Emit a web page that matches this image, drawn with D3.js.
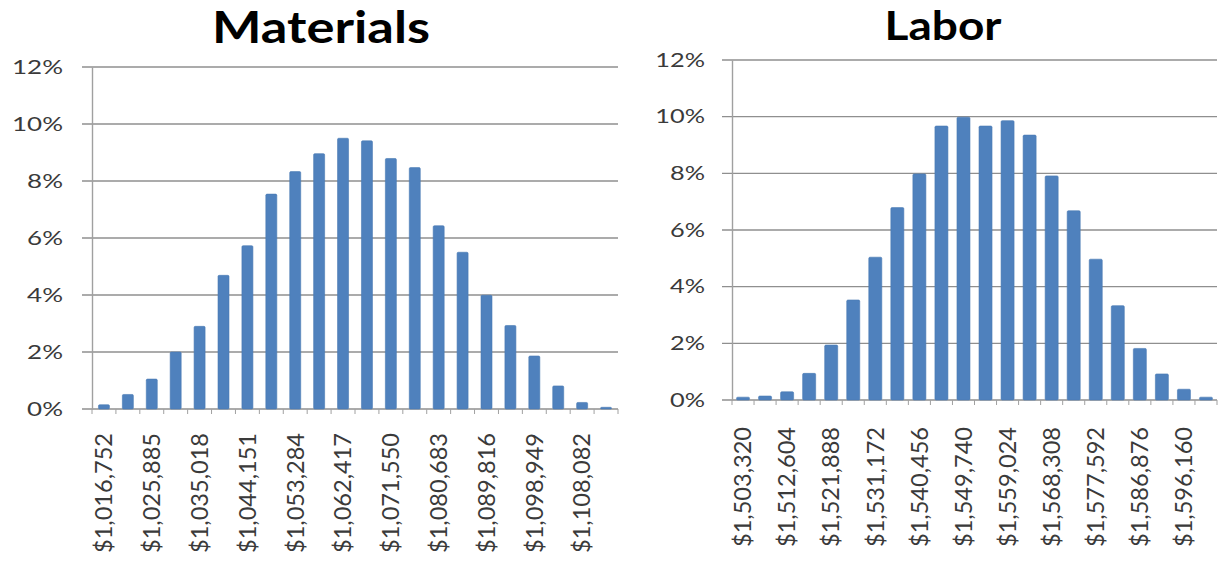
<!DOCTYPE html>
<html>
<head>
<meta charset="utf-8">
<script src="https://cdn.jsdelivr.net/npm/d3@7"></script>
<style>
  html, body { margin: 0; padding: 0; background: #fff; }
  svg { display: block; }
</style>
</head>
<body>
<svg id="chart" width="1220" height="562"></svg>
<script>
// Simulation histogram bins (lower bound of each cost bin) and share of trials (%)
const materialsBins = [
  1016752, 1021319, 1025885, 1030452, 1035018, 1039585, 1044151, 1048718,
  1053284, 1057851, 1062417, 1066984, 1071550, 1076117, 1080683, 1085250,
  1089816, 1094383, 1098949, 1103516, 1108082, 1112649
];
const materialsPct = [
  0.15, 0.51, 1.05, 2.00, 2.90, 4.69, 5.73, 7.54, 8.33, 8.96, 9.50,
  9.41, 8.79, 8.47, 6.43, 5.50, 3.99, 2.93, 1.86, 0.81, 0.23, 0.06
];

const laborBins = [
  1503320, 1507962, 1512604, 1517246, 1521888, 1526530, 1531172, 1535814,
  1540456, 1545098, 1549740, 1554382, 1559024, 1563666, 1568308, 1572950,
  1577592, 1582234, 1586876, 1591518, 1596160, 1600802
];
const laborPct = [
  0.10, 0.14, 0.29, 0.94, 1.94, 3.53, 5.04, 6.79, 7.98, 9.67, 9.98,
  9.67, 9.86, 9.35, 7.91, 6.68, 4.97, 3.33, 1.82, 0.92, 0.38, 0.10
];

const yTicks = [0, 2, 4, 6, 8, 10, 12];

// Layout of the two panels
const panels = [
  { title: "Materials", bins: materialsBins, pct: materialsPct,
    left: 92, right: 618, top: 67, bottom: 409, pad: 0.54,
    titleX: 321, titleY: 43, titleSize: 43, titleLen: 218,
    labelGap: 24, tickGap: 29, tickFont: 20 },
  { title: "Labor", bins: laborBins, pct: laborPct,
    left: 732, right: 1217, top: 60, bottom: 400, pad: 0.41,
    titleX: 943, titleY: 39.5, titleSize: 40, titleLen: 117,
    labelGap: 27, tickGap: 27, tickFont: 19.5 }
];

const svg = d3.select("#chart");
const fontFamily = "Lato, 'Open Sans', 'DejaVu Sans', sans-serif";
const textColor = "#3a3a3a";
const barColor = "#4f81bd";
const kx = 1.3; // horizontal stretch of the axis text

const defs = svg.append("defs");
const shadow = defs.append("filter").attr("id", "edgeShadow")
  .attr("x", "-20%").attr("y", "-20%").attr("width", "140%").attr("height", "140%");
shadow.append("feDropShadow")
  .attr("dx", 2).attr("dy", 2.5).attr("stdDeviation", 1.8)
  .attr("flood-color", "#000").attr("flood-opacity", 0.35);

const moneyFmt = d3.format("$,");

panels.forEach(p => {
  const w = p.right - p.left;
  const h = p.bottom - p.top;
  const g = svg.append("g").attr("transform", `translate(${p.left},${p.top})`);

  const x = d3.scaleBand()
    .domain(p.bins)
    .range([0, w])
    .paddingInner(p.pad)
    .paddingOuter(p.pad / 2);

  const y = d3.scaleLinear().domain([0, 12]).range([h, 0]);

  // Title
  svg.append("text")
    .attr("x", p.titleX).attr("y", p.titleY)
    .attr("text-anchor", "middle")
    .attr("font-family", fontFamily)
    .attr("font-weight", 700)
    .attr("font-size", p.titleSize)
    .attr("textLength", p.titleLen)
    .attr("lengthAdjust", "spacingAndGlyphs")
    .attr("fill", "#000")
    .text(p.title);

  // Horizontal gridlines (extending left of the axis as tick marks)
  g.append("g").selectAll("line")
    .data(yTicks)
    .join("line")
    .attr("x1", -10).attr("x2", w)
    .attr("y1", d => y(d)).attr("y2", d => y(d))
    .attr("stroke", "#8f8f8f")
    .attr("stroke-width", 1.4);

  // Right border of the plot area, with shadow
  g.append("line")
    .attr("x1", w).attr("x2", w)
    .attr("y1", 2).attr("y2", h)
    .attr("stroke", "#8f8f8f").attr("stroke-width", 1.4)
    .attr("filter", "url(#edgeShadow)");

  // Y axis with percentage labels
  const yAxis = g.append("g")
    .call(d3.axisLeft(y).tickValues(yTicks).tickSize(0).tickPadding(p.tickGap)
      .tickFormat(d => d + "%"));
  yAxis.select(".domain").attr("stroke", "#a0a0a0").attr("stroke-width", 1.4);
  yAxis.selectAll("text")
    .attr("font-family", fontFamily)
    .attr("font-size", p.tickFont)
    .attr("fill", textColor)
    .attr("x", -p.tickGap / kx)
    .attr("transform", `scale(${kx},1)`);

  // Bars
  g.append("g").selectAll("rect")
    .data(p.bins.map((b, i) => ({ bin: b, v: p.pct[i] })))
    .join("rect")
    .attr("x", d => x(d.bin))
    .attr("width", x.bandwidth())
    .attr("y", d => y(d.v))
    .attr("height", d => y(0) - y(d.v))
    .attr("rx", 1.2)
    .attr("fill", barColor)
    .attr("stroke", "#4a7ab4")
    .attr("stroke-width", 0.6);

  // X axis: line with shadow, boundary ticks, rotated labels on every other bin
  const step = x.step();
  const axisG = g.append("g").attr("transform", `translate(0,${h})`);
  axisG.append("line")
    .attr("x1", -10).attr("x2", w)
    .attr("stroke", "#8f8f8f").attr("stroke-width", 1.4)
    .attr("filter", "url(#edgeShadow)");
  axisG.append("g").selectAll("line")
    .data(d3.range(p.bins.length + 1))
    .join("line")
    .attr("x1", i => i * step).attr("x2", i => i * step)
    .attr("y1", 0).attr("y2", 5)
    .attr("stroke", "#a0a0a0").attr("stroke-width", 1);

  const xAxis = axisG.append("g")
    .call(d3.axisBottom(x)
      .tickValues(p.bins.filter((_, i) => i % 2 === 0))
      .tickSize(0)
      .tickFormat(moneyFmt));
  xAxis.select(".domain").remove();
  xAxis.selectAll("text")
    .attr("font-family", fontFamily)
    .attr("font-size", 23)
    .attr("fill", textColor)
    .attr("transform", "rotate(-90)")
    .attr("text-anchor", "end")
    .attr("x", -p.labelGap)
    .attr("y", 0)
    .attr("dy", "0.36em")
    .attr("textLength", 120)
    .attr("lengthAdjust", "spacingAndGlyphs");
});
</script>
</body>
</html>
